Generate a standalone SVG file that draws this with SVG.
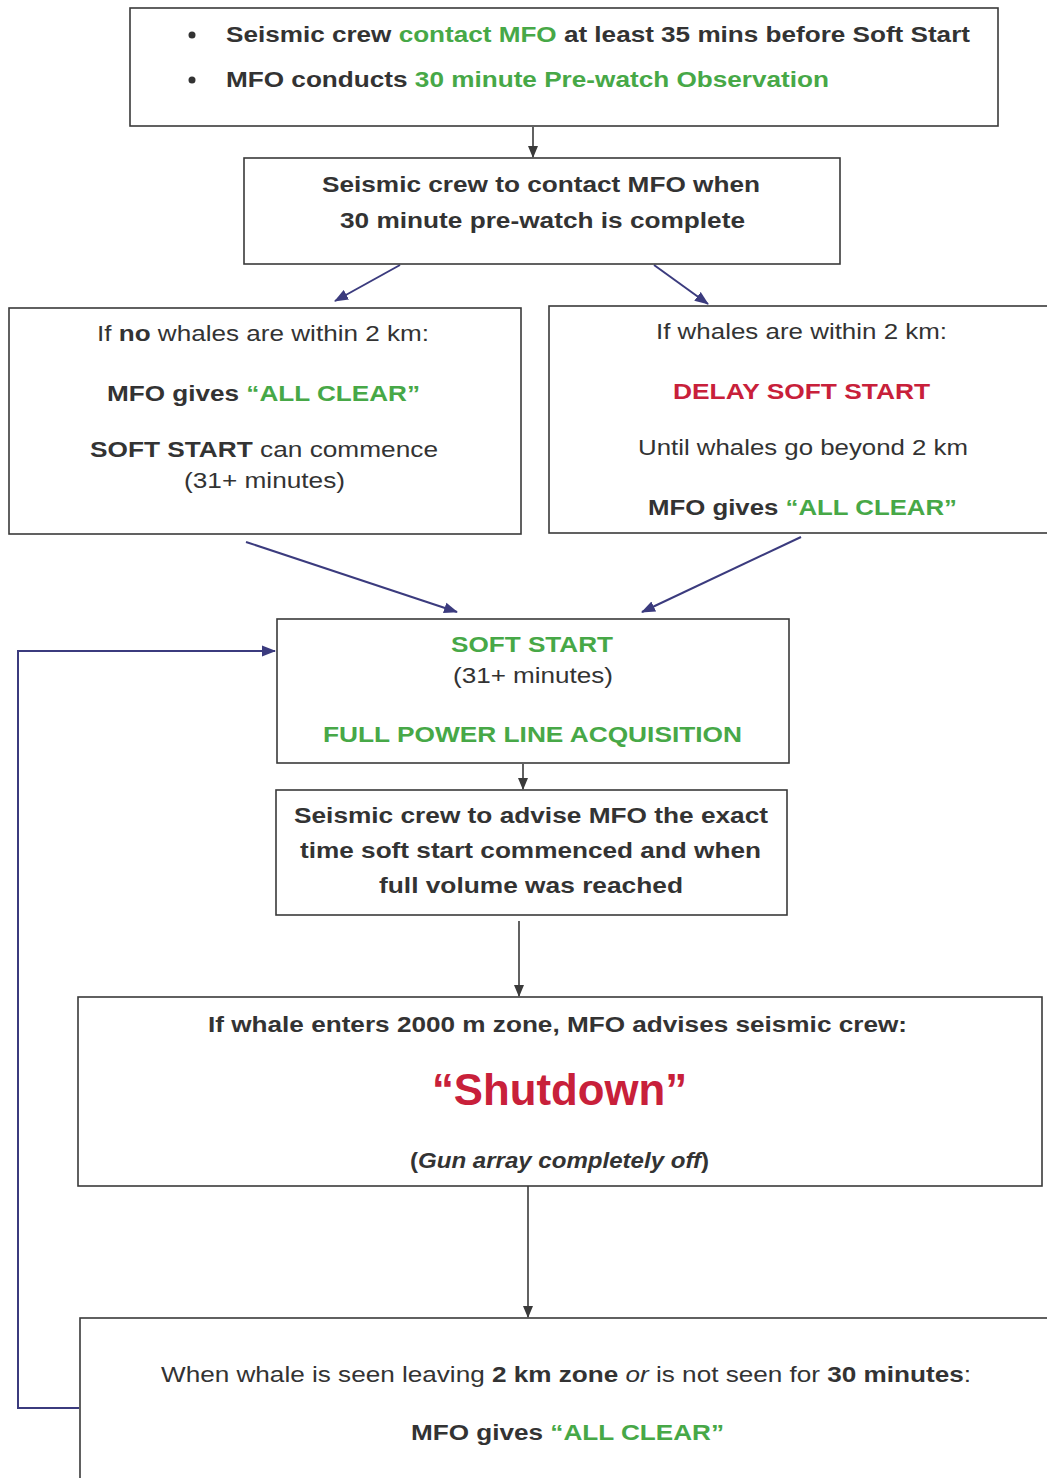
<svg xmlns="http://www.w3.org/2000/svg" width="1047" height="1478" viewBox="0 0 1047 1478">
<defs>
<marker id="ah" markerWidth="14" markerHeight="12" refX="13" refY="6" orient="auto" markerUnits="userSpaceOnUse"><path d="M0,0.5 L14,6 L0,11.5 Z" fill="#3b3b7e"/></marker>
<marker id="ahg" markerWidth="12" markerHeight="12" refX="11" refY="6" orient="auto" markerUnits="userSpaceOnUse"><path d="M0,1 L12,6 L0,11 Z" fill="#3a3a3a"/></marker>
</defs>
<style>
.box{fill:#fff;stroke:#3a3a3a;stroke-width:1.6}
text{font-family:"Liberation Sans",Arial,sans-serif;fill:#333;font-size:22px}
.b{font-weight:bold}
.g{fill:#47a847}
.r{fill:#c8203a}
.i{font-style:italic}
text.big{font-size:44px}
.nv{stroke:#3b3b7e;stroke-width:2;fill:none}
.gr{stroke:#3a3a3a;stroke-width:1.6;fill:none}
</style>
<rect width="1047" height="1478" fill="#fff"/>
<g id="connectors">
<line class="gr" x1="533" y1="127" x2="533" y2="157" marker-end="url(#ahg)"/>
<line class="nv" x1="400" y1="265" x2="335" y2="301" marker-end="url(#ah)"/>
<line class="nv" x1="654" y1="265" x2="708" y2="304" marker-end="url(#ah)"/>
<line class="nv" x1="246" y1="542" x2="457" y2="612" marker-end="url(#ah)"/>
<line class="nv" x1="801" y1="537" x2="642" y2="612" marker-end="url(#ah)"/>
<line class="gr" x1="523" y1="764" x2="523" y2="789" marker-end="url(#ahg)"/>
<line class="gr" x1="519" y1="921" x2="519" y2="996" marker-end="url(#ahg)"/>
<line class="gr" x1="528" y1="1186" x2="528" y2="1317" marker-end="url(#ahg)"/>
<polyline class="nv" points="79,1408 18,1408 18,651 275,651" marker-end="url(#ah)"/>
</g>
<g id="node-prewatch">
<rect class="box" x="130" y="8" width="868" height="118"/>
<circle cx="192" cy="35" r="3.5" fill="#333"/>
<circle cx="192" cy="80" r="3.5" fill="#333"/>
<text class="b" x="226" y="42" textLength="744" lengthAdjust="spacingAndGlyphs">Seismic crew <tspan class="g">contact MFO</tspan> at least 35 mins before Soft Start</text>
<text class="b" x="226" y="87" textLength="603" lengthAdjust="spacingAndGlyphs">MFO conducts <tspan class="g">30 minute Pre-watch Observation</tspan></text>
</g>
<g id="node-contact">
<rect class="box" x="244" y="158" width="596" height="106"/>
<text class="b" x="322" y="192" textLength="438" lengthAdjust="spacingAndGlyphs">Seismic crew to contact MFO when</text>
<text class="b" x="340" y="228" textLength="405" lengthAdjust="spacingAndGlyphs">30 minute pre-watch is complete</text>
</g>
<g id="node-no-whales">
<rect class="box" x="9" y="308" width="512" height="226"/>
<text x="97" y="341" textLength="332" lengthAdjust="spacingAndGlyphs">If <tspan class="b">no</tspan> whales are within 2 km:</text>
<text class="b" x="107" y="401" textLength="313" lengthAdjust="spacingAndGlyphs">MFO gives <tspan class="g">“ALL CLEAR”</tspan></text>
<text x="90" y="457" textLength="348" lengthAdjust="spacingAndGlyphs"><tspan class="b">SOFT START</tspan> can commence</text>
<text x="184" y="488" textLength="161" lengthAdjust="spacingAndGlyphs">(31+ minutes)</text>
</g>
<g id="node-whales">
<rect class="box" x="549" y="306" width="510" height="227"/>
<text x="656" y="339" textLength="291" lengthAdjust="spacingAndGlyphs">If whales are within 2 km:</text>
<text class="b r" x="673" y="399" textLength="257" lengthAdjust="spacingAndGlyphs">DELAY SOFT START</text>
<text x="638" y="455" textLength="330" lengthAdjust="spacingAndGlyphs">Until whales go beyond 2 km</text>
<text class="b" x="648" y="515" textLength="309" lengthAdjust="spacingAndGlyphs">MFO gives <tspan class="g">“ALL CLEAR”</tspan></text>
</g>
<g id="node-softstart">
<rect class="box" x="277" y="619" width="512" height="144"/>
<text class="b g" x="451" y="652" textLength="162" lengthAdjust="spacingAndGlyphs">SOFT START</text>
<text x="453" y="683" textLength="160" lengthAdjust="spacingAndGlyphs">(31+ minutes)</text>
<text class="b g" x="323" y="742" textLength="419" lengthAdjust="spacingAndGlyphs">FULL POWER LINE ACQUISITION</text>
</g>
<g id="node-advise">
<rect class="box" x="276" y="790" width="511" height="125"/>
<text class="b" x="294" y="823" textLength="474" lengthAdjust="spacingAndGlyphs">Seismic crew to advise MFO the exact</text>
<text class="b" x="300" y="858" textLength="461" lengthAdjust="spacingAndGlyphs">time soft start commenced and when</text>
<text class="b" x="379" y="893" textLength="304" lengthAdjust="spacingAndGlyphs">full volume was reached</text>
</g>
<g id="node-shutdown">
<rect class="box" x="78" y="997" width="964" height="189"/>
<text class="b" x="208" y="1032" textLength="699" lengthAdjust="spacingAndGlyphs">If whale enters 2000 m zone, MFO advises seismic crew:</text>
<text class="b r big" x="432" y="1105" textLength="255" lengthAdjust="spacingAndGlyphs">“Shutdown”</text>
<text class="b" x="410" y="1168" textLength="299" lengthAdjust="spacingAndGlyphs">(<tspan class="i">Gun array completely off</tspan>)</text>
</g>
<g id="node-allclear">
<rect class="box" x="80" y="1318" width="990" height="180"/>
<text x="161" y="1382" textLength="810" lengthAdjust="spacingAndGlyphs">When whale is seen leaving <tspan class="b">2 km zone</tspan> <tspan class="i">or</tspan> is not seen for <tspan class="b">30 minutes</tspan>:</text>
<text class="b" x="411" y="1440" textLength="313" lengthAdjust="spacingAndGlyphs">MFO gives <tspan class="g">“ALL CLEAR”</tspan></text>
</g>
</svg>
